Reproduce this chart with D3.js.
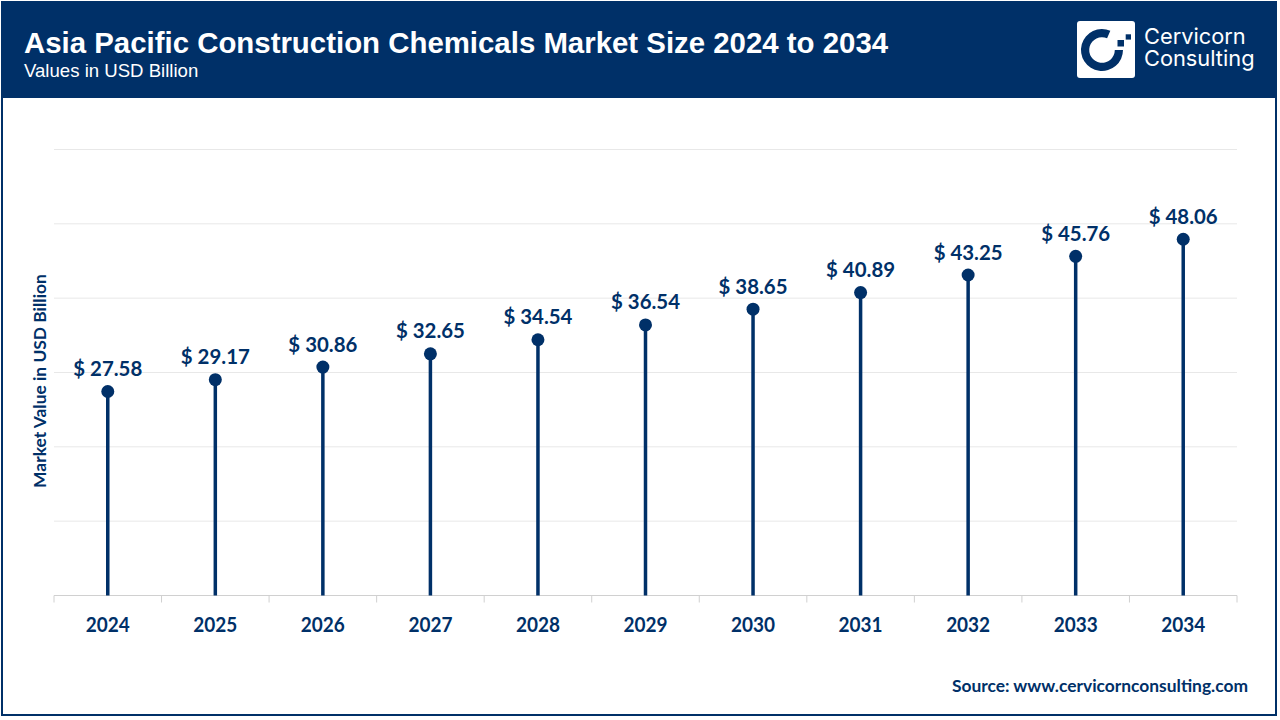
<!DOCTYPE html>
<html>
<head>
<meta charset="utf-8">
<script src="https://cdn.jsdelivr.net/npm/d3@7"></script>
<style>
  html, body { margin: 0; padding: 0; background: #fff; }
  svg { display: block; }
</style>
</head>
<body>
<div id="chart"></div>
<script>
const years = ['2024', '2025', '2026', '2027', '2028', '2029', '2030', '2031', '2032', '2033', '2034'];
const marketValues = [27.58, 29.17, 30.86, 32.65, 34.54, 36.54, 38.65, 40.89, 43.25, 45.76, 48.06];
const gridTicks = [0, 10, 20, 30, 40, 50, 60];

const navy = '#003068';
const labelFont = 'Lato, sans-serif';
const headFont = '"Liberation Sans", Arial, sans-serif';

const svg = d3.select('#chart').append('svg')
  .attr('width', 1280)
  .attr('height', 720);

const x = d3.scaleBand().domain(years).range([54, 1237]);
const y = d3.scaleLinear().domain([0, 60]).range([595.5, 149.5]);
// the dots sit about a pixel lower than the gridlines suggest
const yMark = y.copy().range([596.5, 150.5]);

// frame and header
svg.append('rect')
  .attr('x', 2).attr('y', 2)
  .attr('width', 1274).attr('height', 713)
  .attr('fill', '#fff')
  .attr('stroke', navy)
  .attr('stroke-width', 2);

svg.append('rect')
  .attr('x', 1).attr('y', 1)
  .attr('width', 1276).attr('height', 97)
  .attr('fill', navy);

svg.append('text')
  .attr('x', 24).attr('y', 53)
  .attr('font-family', headFont)
  .attr('font-size', 29.4)
  .attr('font-weight', 700)
  .attr('fill', '#fff')
  .text('Asia Pacific Construction Chemicals Market Size 2024 to 2034');

svg.append('text')
  .attr('x', 24).attr('y', 76.5)
  .attr('font-family', headFont)
  .attr('font-size', 18.6)
  .attr('fill', '#fff')
  .text('Values in USD Billion');

// logo
const logo = svg.append('g').attr('transform', 'translate(1077, 21)');
logo.append('rect')
  .attr('width', 58).attr('height', 57).attr('rx', 3)
  .attr('fill', '#fff');
logo.append('path')
  .attr('transform', 'translate(25, 29)')
  .attr('d', d3.arc()
    .innerRadius(12.8)
    .outerRadius(21)
    .startAngle(Math.PI * 0.5)
    .endAngle(Math.PI * 2.13)())
  .attr('fill', navy);
logo.append('rect').attr('x', 40.5).attr('y', 19).attr('width', 6.5).attr('height', 6.5).attr('fill', navy);
logo.append('rect').attr('x', 48.7).attr('y', 13.3).attr('width', 5.3).attr('height', 5.3).attr('fill', navy);

svg.append('text')
  .attr('font-family', 'Inter, sans-serif')
  .attr('font-size', 21.8)
  .attr('fill', '#fff')
  .selectAll('tspan')
  .data(['Cervicorn', 'Consulting'])
  .enter()
  .append('tspan')
  .attr('x', 1144)
  .attr('y', (_, i) => 44 + i * 22)
  .text((d) => d);

// gridlines
svg.selectAll('.grid')
  .data(gridTicks.slice(1))
  .enter()
  .append('line')
  .attr('class', 'grid')
  .attr('x1', 54)
  .attr('x2', 1237)
  .attr('y1', (d) => y(d))
  .attr('y2', (d) => y(d))
  .attr('stroke', '#e8e8e8')
  .attr('stroke-width', 1);

// x axis, ticks sit on the band edges
svg.append('line')
  .attr('x1', 54).attr('x2', 1237)
  .attr('y1', y(0)).attr('y2', y(0))
  .attr('stroke', '#d0d0d0')
  .attr('stroke-width', 1);

svg.selectAll('.edge')
  .data(years.concat('end'))
  .enter()
  .append('line')
  .attr('class', 'edge')
  .attr('x1', (d) => (d === 'end' ? x.range()[1] : x(d)))
  .attr('x2', (d) => (d === 'end' ? x.range()[1] : x(d)))
  .attr('y1', y(0))
  .attr('y2', y(0) + 7)
  .attr('stroke', '#d0d0d0')
  .attr('stroke-width', 1);

svg.selectAll('.year')
  .data(years)
  .enter()
  .append('text')
  .attr('class', 'year')
  .attr('x', (d) => x(d) + x.bandwidth() / 2)
  .attr('y', 632)
  .attr('text-anchor', 'middle')
  .attr('font-family', labelFont)
  .attr('font-size', 21)
  .attr('font-weight', 700)
  .attr('fill', navy)
  .attr('textLength', 44)
  .attr('lengthAdjust', 'spacingAndGlyphs')
  .text((d) => d);

// lollipops
const point = svg.selectAll('.point')
  .data(marketValues)
  .enter()
  .append('g')
  .attr('class', 'point');

point.append('line')
  .attr('x1', (_, i) => x(years[i]) + x.bandwidth() / 2)
  .attr('x2', (_, i) => x(years[i]) + x.bandwidth() / 2)
  .attr('y1', y(0))
  .attr('y2', (d) => yMark(d))
  .attr('stroke', navy)
  .attr('stroke-width', 3.5);

point.append('circle')
  .attr('cx', (_, i) => x(years[i]) + x.bandwidth() / 2)
  .attr('cy', (d) => yMark(d))
  .attr('r', 6.5)
  .attr('fill', navy);

point.append('text')
  .attr('x', (_, i) => x(years[i]) + x.bandwidth() / 2)
  .attr('y', (d) => yMark(d) - 15.5)
  .attr('text-anchor', 'middle')
  .attr('font-family', labelFont)
  .attr('font-size', 21)
  .attr('font-weight', 700)
  .attr('fill', navy)
  .attr('textLength', 69)
  .attr('lengthAdjust', 'spacingAndGlyphs')
  .text((d) => `$ ${d.toFixed(2)}`);

// axis title and source
svg.append('text')
  .attr('transform', 'translate(46, 381) rotate(-90)')
  .attr('text-anchor', 'middle')
  .attr('font-family', labelFont)
  .attr('font-size', 17.4)
  .attr('font-weight', 700)
  .attr('fill', navy)
  .text('Market Value in USD Billion');

svg.append('text')
  .attr('x', 1248).attr('y', 692)
  .attr('text-anchor', 'end')
  .attr('font-family', labelFont)
  .attr('font-size', 17.4)
  .attr('font-weight', 700)
  .attr('fill', navy)
  .text('Source: www.cervicornconsulting.com');
</script>
</body>
</html>
